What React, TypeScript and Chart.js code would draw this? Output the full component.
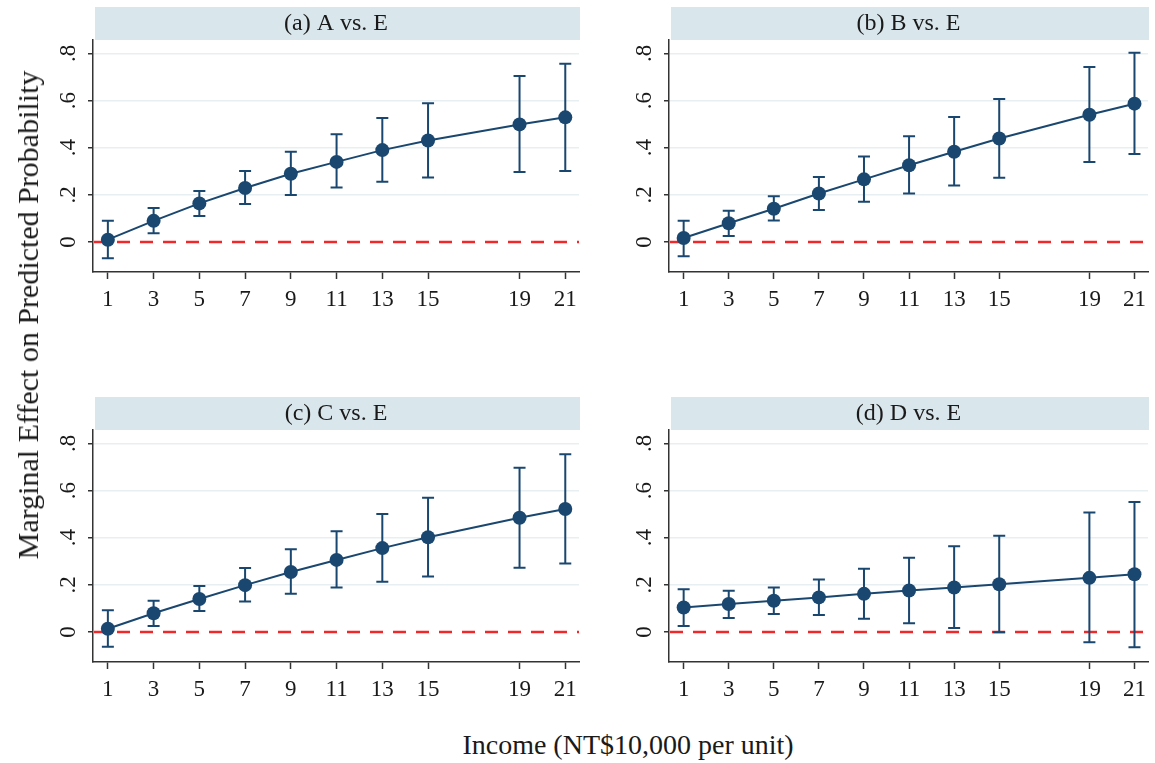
import React, { useEffect, useRef } from "react";
import { Chart, registerables } from "chart.js";

Chart.register(...registerables);

// ---------- data ----------
const incomeLevels = [1, 3, 5, 7, 9, 11, 13, 15, 19, 21];
const xTickLabels = ["1", "3", "5", "7", "9", "11", "13", "15", "19", "21"];
const yTickValues = [0, 0.2, 0.4, 0.6, 0.8];
const yTickLabels = ["0", ".2", ".4", ".6", ".8"];

const panelTitles = ["(a) A vs. E", "(b) B vs. E", "(c) C vs. E", "(d) D vs. E"];

const effectA = [0.010, 0.090, 0.164, 0.229, 0.290, 0.340, 0.390, 0.431, 0.499, 0.529];
const lowerA = [-0.069, 0.037, 0.110, 0.161, 0.200, 0.231, 0.256, 0.274, 0.297, 0.301];
const upperA = [0.090, 0.144, 0.217, 0.301, 0.383, 0.457, 0.526, 0.589, 0.704, 0.756];

const effectB = [0.017, 0.080, 0.141, 0.206, 0.266, 0.326, 0.383, 0.439, 0.540, 0.587];
const lowerB = [-0.060, 0.026, 0.091, 0.136, 0.171, 0.206, 0.240, 0.273, 0.340, 0.374];
const upperB = [0.090, 0.133, 0.194, 0.276, 0.363, 0.449, 0.530, 0.607, 0.743, 0.803];

const effectC = [0.014, 0.080, 0.140, 0.199, 0.255, 0.306, 0.356, 0.402, 0.485, 0.522];
const lowerC = [-0.062, 0.026, 0.089, 0.130, 0.162, 0.189, 0.213, 0.236, 0.273, 0.291];
const upperC = [0.092, 0.133, 0.195, 0.272, 0.351, 0.428, 0.501, 0.570, 0.697, 0.754];

const effectD = [0.104, 0.119, 0.133, 0.147, 0.162, 0.176, 0.189, 0.203, 0.230, 0.245];
const lowerD = [0.026, 0.060, 0.077, 0.072, 0.056, 0.037, 0.017, -0.001, -0.043, -0.064];
const upperD = [0.182, 0.175, 0.189, 0.223, 0.268, 0.315, 0.364, 0.409, 0.507, 0.552];

// ---------- styles ----------
const NAVY = "#1a476f";
const RED = "#f0282a";
const GRID = "#e8eff2";
const STRIP = "#d9e6ec";
const AXIS = "#333333";
const TEXT = "#1a1a1a";
const FONT = "'Liberation Serif', 'Times New Roman', serif";

const X_MIN = 0.35;
const X_MAX = 21.6;
const Y_MIN = -0.127;
const Y_MAX = 0.857;

const stripPlugin = {
  id: "stripBg",
  beforeDraw(chart: any) {
    const t = chart.titleBlock;
    if (!t) return;
    const ctx = chart.ctx;
    ctx.save();
    ctx.fillStyle = STRIP;
    ctx.fillRect(t.left + 2, t.top, t.width - 1, t.height);
    ctx.restore();
  },
};

const errorBarPlugin = {
  id: "errorBars",
  beforeDatasetsDraw(chart: any) {
    const { ctx, chartArea } = chart;
    const xs = chart.scales.x;
    const ys = chart.scales.y;
    ctx.save();
    // zero reference line
    const y0 = ys.getPixelForValue(0);
    ctx.beginPath();
    ctx.strokeStyle = RED;
    ctx.lineWidth = 2.5;
    ctx.setLineDash([13, 10]);
    ctx.moveTo(chartArea.left + 1, y0);
    ctx.lineTo(chartArea.right, y0);
    ctx.stroke();
    ctx.setLineDash([]);
    // confidence intervals
    const ds = chart.data.datasets[0];
    const lo: number[] = ds.errLow;
    const hi: number[] = ds.errHigh;
    ctx.strokeStyle = NAVY;
    ctx.lineWidth = 2;
    const cap = 6;
    ds.data.forEach((p: any, i: number) => {
      const px = xs.getPixelForValue(p.x);
      const pl = ys.getPixelForValue(lo[i]);
      const ph = ys.getPixelForValue(hi[i]);
      ctx.beginPath();
      ctx.moveTo(px, pl);
      ctx.lineTo(px, ph);
      ctx.moveTo(px - cap, pl);
      ctx.lineTo(px + cap, pl);
      ctx.moveTo(px - cap, ph);
      ctx.lineTo(px + cap, ph);
      ctx.stroke();
    });
    ctx.restore();
  },
};

type PanelProps = {
  title: string;
  effect: number[];
  lower: number[];
  upper: number[];
  left: number;
  top: number;
  width: number;
  height: number;
  padRight: number;
};

function Panel(props: PanelProps) {
  const ref = useRef<HTMLCanvasElement>(null);
  useEffect(() => {
    const canvas = ref.current;
    if (!canvas) return;
    const chart = new Chart(canvas, {
      type: "line",
      data: {
        datasets: [
          {
            data: incomeLevels.map((x, i) => ({ x, y: props.effect[i] })),
            errLow: props.lower,
            errHigh: props.upper,
            borderColor: NAVY,
            borderWidth: 2,
            backgroundColor: NAVY,
            pointBackgroundColor: NAVY,
            pointBorderColor: NAVY,
            pointBorderWidth: 0,
            pointRadius: 7,
            tension: 0,
            fill: false,
          } as any,
        ],
      },
      options: {
        animation: false,
        responsive: false,
        maintainAspectRatio: false,
        layout: { padding: { top: 7, right: props.padRight, left: 0, bottom: 0 } },
        plugins: {
          legend: { display: false },
          tooltip: { enabled: false },
          title: {
            display: true,
            text: props.title,
            fullSize: false,
            color: TEXT,
            font: { family: FONT, size: 24, weight: "normal", lineHeight: 1 },
            padding: { top: 5, bottom: 4 },
          },
        },
        scales: {
          x: {
            type: "linear",
            min: X_MIN,
            max: X_MAX,
            afterBuildTicks: (scale: any) => {
              scale.ticks = incomeLevels.map((v) => ({ value: v }));
            },
            afterFit: (scale: any) => {
              scale.height = 48;
              scale.paddingLeft = 0;
              scale.paddingRight = 0;
            },
            ticks: {
              autoSkip: false,
              maxRotation: 0,
              minRotation: 0,
              padding: 7,
              color: TEXT,
              font: { family: FONT, size: 23 },
              callback: (_v: any, i: number) => xTickLabels[i],
            },
            grid: {
              drawOnChartArea: false,
              drawTicks: true,
              tickLength: 7,
              tickColor: AXIS,
              tickWidth: 1.5,
            },
            border: { display: true, color: AXIS, width: 1.5 },
          },
          y: {
            type: "linear",
            min: Y_MIN,
            max: Y_MAX,
            afterBuildTicks: (scale: any) => {
              scale.ticks = yTickValues.map((v) => ({ value: v }));
            },
            afterFit: (scale: any) => {
              scale.width = 57;
              scale.paddingTop = 0;
              scale.paddingBottom = 0;
            },
            ticks: {
              autoSkip: false,
              minRotation: 90,
              maxRotation: 90,
              crossAlign: "center",
              padding: 10,
              color: TEXT,
              font: { family: FONT, size: 23 },
              callback: (_v: any, i: number) => yTickLabels[i],
            },
            grid: {
              drawOnChartArea: true,
              drawTicks: true,
              tickLength: 5,
              lineWidth: 1.5,
              color: (c: any) => (c.tick && c.tick.value === 0 ? "rgba(0,0,0,0)" : GRID),
              tickColor: AXIS,
              tickWidth: 1.5,
            },
            border: { display: true, color: AXIS, width: 1.5 },
          },
        },
      } as any,
      plugins: [stripPlugin, errorBarPlugin],
    });
    return () => chart.destroy();
  }, []);
  return (
    <div
      style={{
        position: "absolute",
        left: props.left,
        top: props.top,
        width: props.width,
        height: props.height,
      }}
    >
      <canvas
        ref={ref}
        width={props.width}
        height={props.height}
        style={{ display: "block", width: props.width, height: props.height }}
      />
    </div>
  );
}

export default function App() {
  return (
    <div
      style={{
        position: "fixed",
        left: 0,
        top: 0,
        width: 1155,
        height: 763,
        overflow: "hidden",
        background: "#ffffff",
      }}
    >
      <Panel title={panelTitles[0]} effect={effectA} lower={lowerA} upper={upperA} left={36} top={0} width={550} height={320} padRight={5} />
      <Panel title={panelTitles[1]} effect={effectB} lower={lowerB} upper={upperB} left={612} top={0} width={543} height={320} padRight={1} />
      <Panel title={panelTitles[2]} effect={effectC} lower={lowerC} upper={upperC} left={36} top={390} width={550} height={320} padRight={5} />
      <Panel title={panelTitles[3]} effect={effectD} lower={lowerD} upper={upperD} left={612} top={390} width={543} height={320} padRight={1} />
      <div
        style={{
          position: "absolute",
          left: 28,
          top: 315,
          transform: "translate(-50%, -50%) rotate(-90deg)",
          whiteSpace: "nowrap",
          fontFamily: FONT,
          fontSize: 30,
          color: TEXT,
          lineHeight: 1,
        }}
      >
        Marginal Effect on Predicted Probability
      </div>
      <div
        style={{
          position: "absolute",
          left: 628,
          top: 745,
          transform: "translate(-50%, -50%)",
          whiteSpace: "nowrap",
          fontFamily: FONT,
          fontSize: 28,
          color: TEXT,
          lineHeight: 1,
        }}
      >
        Income (NT$10,000 per unit)
      </div>
    </div>
  );
}
